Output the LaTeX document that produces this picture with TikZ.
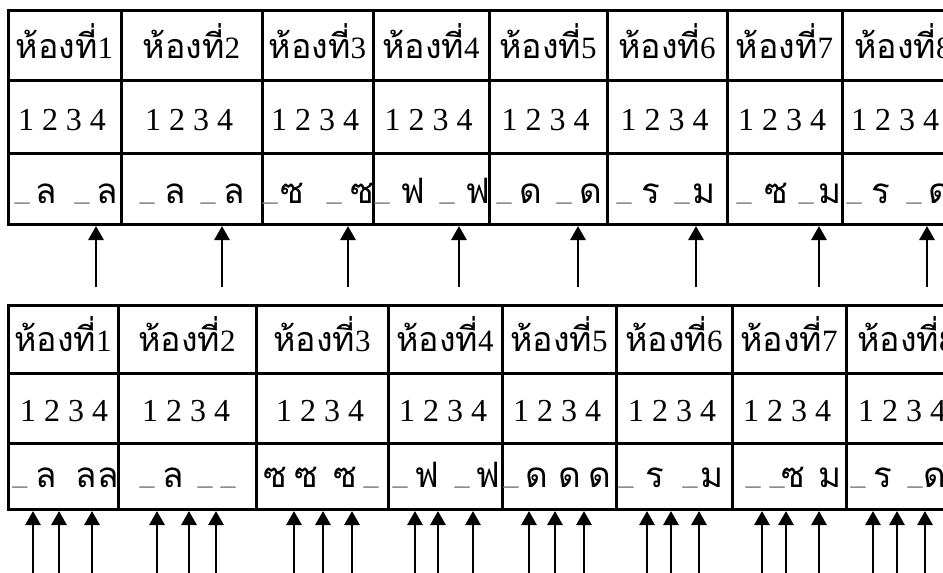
\documentclass[tikz,border=0pt]{standalone}
\usepackage{fontspec}
\setmainfont{Liberation Serif}
\newfontfamily\thaifont[Script=Thai]{Loma}
\usetikzlibrary{arrows.meta}
\tikzset{
  grid/.style={line width=3pt, line cap=rect},
  hdr/.style={anchor=base, inner sep=0pt, font=\fontsize{31}{31}\selectfont},
  nums/.style={anchor=base, inner sep=0pt, font=\fontsize{32}{32}\selectfont},
  note/.style={anchor=base, inner sep=0pt, font=\thaifont\fontsize{35}{35}\selectfont},
  blank/.style={anchor=base, inner sep=0pt, text=gray, font=\fontsize{30}{30}\selectfont},
  up/.style={line width=2.8pt, -{Triangle[width=15pt,length=14pt]}},
}
\newcommand\room[1]{{\thaifont\fontsize{34}{34}\selectfont ห้องที่}#1}
\newcommand\digs{1 2 3 4}
\begin{document}
\begin{tikzpicture}[x=1pt,y=-1pt]
\useasboundingbox (0,0) rectangle (943,573);
\clip (0,0) rectangle (943,573);
% ---------- top table ----------
\foreach \yy in {10,80,153,224} \draw[grid] (8,\yy) -- (970,\yy);
\foreach \xx in {8,121,262,373,489,607,727,842} \draw[grid] (\xx,10) -- (\xx,224);
\foreach \cx/\n in {64.5/1,191.5/2,317.5/3,431/4,548/5,667/6,784.5/7,903/8}{
  \node[hdr] (th\n) at (\cx,58) {\room{\n}};
}
\foreach \cx/\n in {62/1,189/2,315/3,428.5/4,545.5/5,664.5/6,782/7,895/8}{
  \node[nums] (tn\n) at (\cx,130) {\digs};
}
\foreach \cx [count=\i] in {22,82,147,208,270,334,382,447,504,564,624,682,744,806,854,914}
  \node[blank] (tu\i) at (\cx,200) {\_};
\foreach \cx/\ch [count=\i] in {46/ล,107/ล,175/ล,234/ล,292/ซ,362/ซ,413/ฟ,478/ฟ,531/ด,591/ด,651/ร,704/ม,776/ซ,830/ม,881/ร,940/ด}
  \node[note] (tl\i) at (\cx,203) {\ch};
\foreach \ax [count=\i] in {96,222,348,459,578,696,819,927}{
  \coordinate (ta\i) at (\ax,287);
  \coordinate (tb\i) at (\ax,226);
  \draw[up] (ta\i) -- (tb\i);
}
% ---------- bottom table ----------
\foreach \yy in {305,373,443,509} \draw[grid] (8,\yy) -- (970,\yy);
\foreach \xx in {8,118,256,388,502,616,732,846} \draw[grid] (\xx,305) -- (\xx,509);
\foreach \cx/\n in {63/1,187/2,322/3,445/4,559/5,674/6,789/7,906/8}{
  \node[hdr] (bh\n) at (\cx,351) {\room{\n}};
}
\foreach \cx/\n in {64/1,186/2,320/3,443/4,557/5,672/6,787/7,902/8}{
  \node[nums] (bn\n) at (\cx,421) {\digs};
}
\foreach \cx [count=\i] in {20,147,205,228,371,400,462,511,626,690,753,777,858,915}
  \node[blank] (bu\i) at (\cx,484) {\_};
\foreach \cx/\ch [count=\i] in {46/ล,86/ล,108/ล,173/ล,275/ซ,306/ซ,345/ซ,427/ฟ,488/ฟ,537/ด,570/ด,600/ด,655/ร,712/ม,793/ซ,830/ม,883/ร,935/ด}
  \node[note] (bl\i) at (\cx,487) {\ch};
\foreach \ax [count=\i] in {33,59,92,157,189,216,294,323,352,415,438,473,529,555,584,647,671,699,762,786,819,873,897,925}{
  \coordinate (ba\i) at (\ax,573);
  \coordinate (bb\i) at (\ax,511);
  \draw[up] (ba\i) -- (bb\i);
}
\end{tikzpicture}
\end{document}
